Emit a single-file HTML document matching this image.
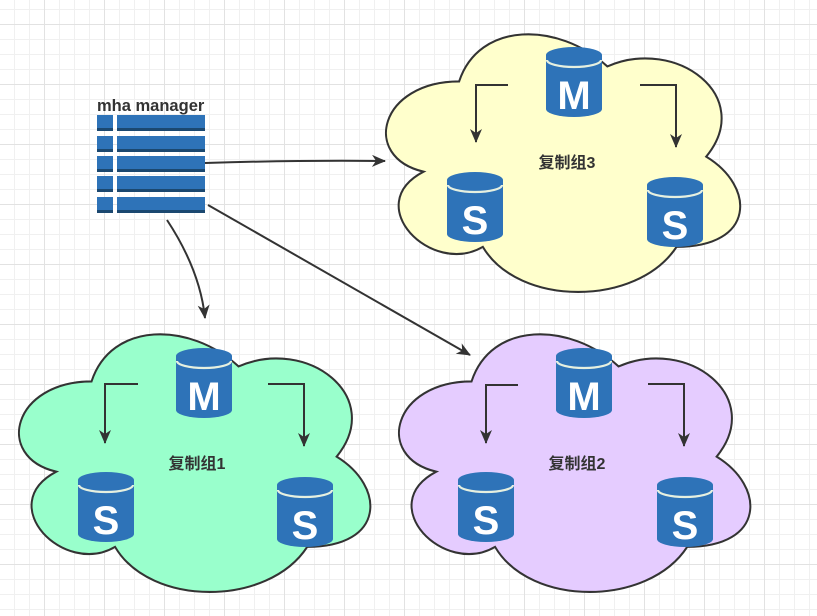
<!DOCTYPE html>
<html><head><meta charset="utf-8"><style>
html,body{margin:0;padding:0}
body{width:817px;height:616px;overflow:hidden;background:#fff;
background-image:
linear-gradient(to right,#e2e2e2 1px,transparent 1px),
linear-gradient(to bottom,#e2e2e2 1px,transparent 1px),
linear-gradient(to right,#f0f0f0 1px,transparent 1px),
linear-gradient(to bottom,#f0f0f0 1px,transparent 1px);
background-size:60px 60px,60px 60px,15px 15px,15px 15px;
background-position:44px 24px,44px 24px,14px 9px,14px 9px;}
svg{position:absolute;left:0;top:0}
text{font-family:"Liberation Sans","Noto Sans CJK SC",sans-serif}
</style></head><body>
<svg width="817" height="616" viewBox="0 0 817 616">
<defs>
<path id="cloud" d="M88,64.75 C17.6,64.75 0,129.5 56.32,142.45 C0,170.94 63.36,233.1 109.12,207.2 C140.8,259 246.4,259 281.6,207.2 C352,207.2 352,155.4 308,129.5 C352,77.7 281.6,25.9 220,51.8 C176,12.95 105.6,12.95 88,64.75 Z"/>
<marker id="ar" markerWidth="14" markerHeight="12" refX="13" refY="6" orient="auto" markerUnits="userSpaceOnUse">
<path d="M0,0 L14,6 L0,12 L4,6 Z" fill="#333"/></marker>
<g id="cyl">
<path d="M0,8 A28,8 0 0 1 56,8 L56,62 A28,8 0 0 1 0,62 Z" fill="#2e73b8"/>
<path d="M1,13 A27,7 0 0 0 55,13" fill="none" stroke="#e6f0e0" stroke-width="2.2"/>
</g>
</defs>
<g stroke="#333" stroke-width="1.8">
<use href="#cloud" transform="translate(360.3,6.3) scale(1.123,1.161)" fill="#ffffcc"/>
<use href="#cloud" transform="translate(-6.5,306.3) scale(1.114,1.161)" fill="#99ffcc"/>
<use href="#cloud" transform="translate(373.5,306.3) scale(1.114,1.161)" fill="#e5ccff"/>
</g>
<g fill="none" stroke="#333" stroke-width="2">
<path d="M205,163 Q300,160 385,161" marker-end="url(#ar)"/>
<path d="M167,220 Q200,270 205,318" marker-end="url(#ar)"/>
<path d="M208,205 L470,355" marker-end="url(#ar)"/>
<path d="M508,85 H476 V142" marker-end="url(#ar)"/>
<path d="M640,85 H676 V147" marker-end="url(#ar)"/>
<path d="M138,384 H105 V443" marker-end="url(#ar)"/>
<path d="M268,384 H304 V446" marker-end="url(#ar)"/>
<path d="M518,385 H486 V443" marker-end="url(#ar)"/>
<path d="M648,384 H684 V446" marker-end="url(#ar)"/>
</g>
<g font-weight="bold" fill="#fff" text-anchor="middle" font-size="40">
<use href="#cyl" x="546" y="47"/><text x="574" y="109">M</text>
<use href="#cyl" x="447" y="172"/><text x="475" y="234">S</text>
<use href="#cyl" x="647" y="177"/><text x="675" y="239">S</text>
<use href="#cyl" x="176" y="348"/><text x="204" y="410">M</text>
<use href="#cyl" x="78" y="472"/><text x="106" y="534">S</text>
<use href="#cyl" x="277" y="477"/><text x="305" y="539">S</text>
<use href="#cyl" x="556" y="348"/><text x="584" y="410">M</text>
<use href="#cyl" x="458" y="472"/><text x="486" y="534">S</text>
<use href="#cyl" x="657" y="477"/><text x="685" y="539">S</text>
</g>
<g fill="#333" font-size="16" font-weight="bold" text-anchor="middle">
<text x="567" y="168">复制组3</text>
<text x="197" y="469">复制组1</text>
<text x="577" y="469">复制组2</text>
</g>
<text x="97" y="111" font-size="16.5" font-weight="bold" fill="#333">mha manager</text>
<g>
<g fill="#2e73b8">
<rect x="97" y="115" width="16" height="16"/><rect x="117" y="115" width="88" height="16"/>
<rect x="97" y="136" width="16" height="16"/><rect x="117" y="136" width="88" height="16"/>
<rect x="97" y="156" width="16" height="16"/><rect x="117" y="156" width="88" height="16"/>
<rect x="97" y="176" width="16" height="16"/><rect x="117" y="176" width="88" height="16"/>
<rect x="97" y="197" width="16" height="16"/><rect x="117" y="197" width="88" height="16"/>
</g>
<g fill="#1b4870">
<rect x="97" y="128" width="16" height="3"/><rect x="117" y="128" width="88" height="3"/>
<rect x="97" y="149" width="16" height="3"/><rect x="117" y="149" width="88" height="3"/>
<rect x="97" y="169" width="16" height="3"/><rect x="117" y="169" width="88" height="3"/>
<rect x="97" y="189" width="16" height="3"/><rect x="117" y="189" width="88" height="3"/>
<rect x="97" y="210" width="16" height="3"/><rect x="117" y="210" width="88" height="3"/>
</g>
</g>
</svg>
</body></html>
